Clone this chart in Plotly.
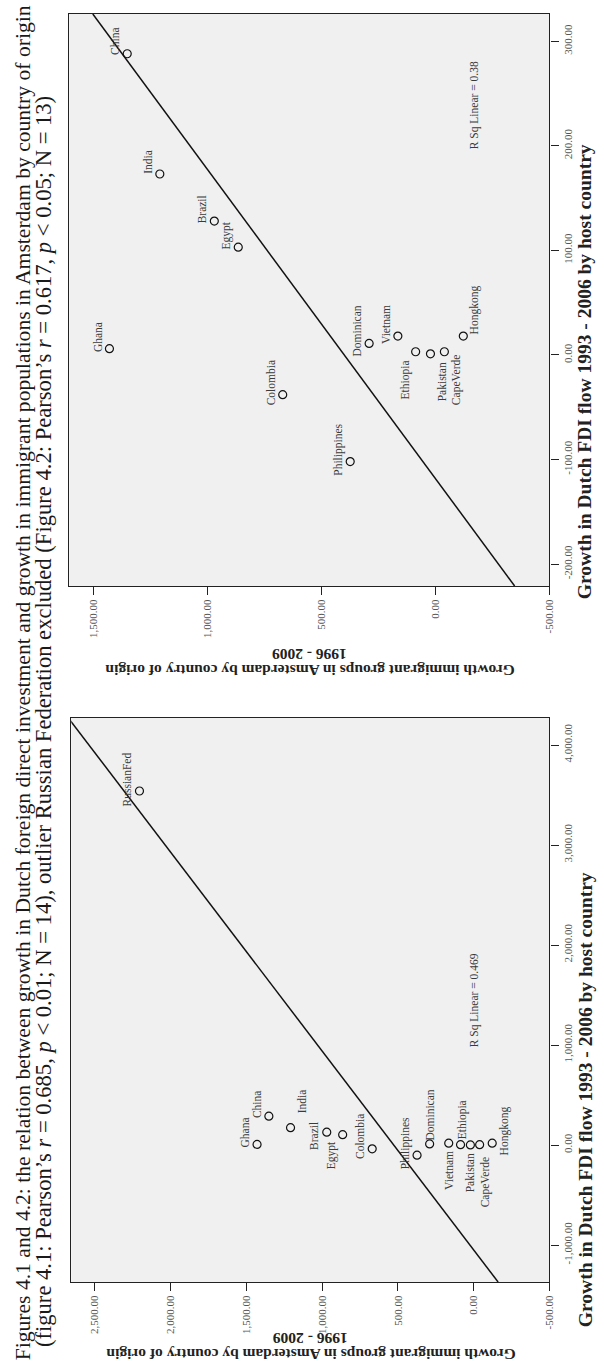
import numpy as np
import plotly.graph_objects as go

W, H = 604, 1365

# Growth figures by country of origin (per cent)
countries = ["China", "India", "Brazil", "Egypt", "Ghana", "Colombia", "Philippines",
             "Dominican", "Vietnam", "Ethiopia", "Pakistan", "CapeVerde", "Hongkong"]
fdi_growth = [288, 173, 128, 103, 6, -38, -102, 11, 18, 3, 1, 3, 18]
immigrant_growth = [1352, 1209, 970, 865, 1430, 670, 374, 291, 165, 87, 22, -39, -122]

outlier_name = "RussianFed"
outlier_fdi = 3540
outlier_immigrant = 2206

rsq_all = "R Sq Linear = 0.469"
rsq_excl = "R Sq Linear = 0.38"

imm_ticks_all = [-500, 0, 500, 1000, 1500, 2000, 2500]
fdi_ticks_all = [-1000, 0, 1000, 2000, 3000, 4000]
imm_ticks_excl = [-500, 0, 500, 1000, 1500]
fdi_ticks_excl = [-200, -100, 0, 100, 200, 300]

fdi_title = "Growth in Dutch FDI flow 1993 - 2006 by host country"
imm_title = "Growth immigrant groups in Amsterdam by country of origin"
imm_title_years = "1996 - 2009"

caption_1 = ("Figures 4.1 and 4.2: the relation between growth in Dutch foreign direct "
             "investment and growth in immigrant populations in Amsterdam by country of origin")
caption_2 = ("(figure 4.1: Pearson\u2019s <i>r</i> = 0.685, <i>p</i> &lt; 0.01; N = 14), "
             "outlier Russian Federation excluded (Figure 4.2: Pearson\u2019s <i>r</i> = 0.617, "
             "<i>p</i> &lt; 0.05; N = 13)")

SERIF = "Liberation Serif, Times New Roman, serif"
INK = "#222222"
LABEL_INK = "#3a3a3a"


def xp(px):
    return px / W


def yp(py):
    return 1 - py / H


def fmt(v):
    return f"{v:,.2f}"


def page_text(text, px, py, angle, size, color, **extra):
    """Text placed in page pixels, centred on (px, py)."""
    return dict(x=xp(px), y=yp(py), xref="paper", yref="paper", text=text,
                showarrow=False, textangle=angle, xanchor="center", yanchor="middle",
                font=dict(family=SERIF, size=size, color=color), **extra)


# panel boxes in page pixels (left, right, top, bottom) and their axis ranges
panels = {
    "excl": dict(box=(70, 555, 14, 586), imm_range=[1606, -500], fdi_range=[-221, 326],
                 imm_ticks=imm_ticks_excl, fdi_ticks=fdi_ticks_excl, ax=("x", "y"),
                 rsq=rsq_excl, rsq_pos=(480, 105), fdi_title_y=372, imm_title_y=(671, 655)),
    "all": dict(box=(72, 555, 718, 1282), imm_range=[2656, -500], fdi_range=[-1370, 4270],
                imm_ticks=imm_ticks_all, fdi_ticks=fdi_ticks_all, ax=("x2", "y2"),
                rsq=rsq_all, rsq_pos=(480, 1000), fdi_title_y=1100, imm_title_y=(1355, 1339)),
}

# label placement relative to the marker (screen px, +x right, +y down)
DEFAULT_SHIFT = (-12, -12)
label_shift = {
    "excl": {"Ethiopia": (-10, 28), "Pakistan": (11, 28), "CapeVerde": (12, 28),
             "Hongkong": (11, -26)},
    "all": {"India": (11, -26), "Brazil": (-13, 4), "Egypt": (-11, 21), "Dominican": (0, -29),
            "Vietnam": (0, 27), "Ethiopia": (2, -25), "Pakistan": (0, 28),
            "CapeVerde": (6, 38), "Hongkong": (12, -12)},
}

fig = go.Figure()
annotations = []
layout_axes = {}

for key, p in panels.items():
    xa, ya = p["ax"]
    if key == "all":
        names = countries + [outlier_name]
        fdi = fdi_growth + [outlier_fdi]
        imm = immigrant_growth + [outlier_immigrant]
    else:
        names = countries
        fdi = fdi_growth
        imm = immigrant_growth

    # least-squares line of immigrant growth on FDI growth
    slope, icpt = np.polyfit(np.array(fdi, float), np.array(imm, float), 1)
    fdi_line = np.array(p["fdi_range"], float)
    imm_line = icpt + slope * fdi_line
    fig.add_trace(go.Scatter(x=imm_line, y=fdi_line, mode="lines", xaxis=xa, yaxis=ya,
                             line=dict(color="#111111", width=1.5), hoverinfo="skip",
                             showlegend=False))
    fig.add_trace(go.Scatter(x=imm, y=fdi, mode="markers", xaxis=xa, yaxis=ya,
                             marker=dict(symbol="circle-open", size=8, color="#111111",
                                         line=dict(width=1.2)),
                             text=names, showlegend=False))

    for n, fx, iy in zip(names, fdi, imm):
        dx, dy = label_shift[key].get(n, DEFAULT_SHIFT)
        annotations.append(dict(x=iy, y=fx, xref=xa, yref=ya, text=n, showarrow=False,
                                textangle=-90, xshift=dx, yshift=-dy,
                                xanchor="center", yanchor="middle",
                                font=dict(family=SERIF, size=11.5, color=LABEL_INK)))

    l, r, t, b = p["box"]
    axis_common = dict(showgrid=False, zeroline=False, showline=True, mirror=True,
                       linecolor=INK, linewidth=1.3, ticks="outside", ticklen=8,
                       tickcolor=INK, tickwidth=1.2, tickangle=-90,
                       tickfont=dict(family=SERIF, size=11, color="#555555"))
    xname = "xaxis" if xa == "x" else "xaxis2"
    yname = "yaxis" if ya == "y" else "yaxis2"
    layout_axes[xname] = dict(axis_common, domain=[xp(l), xp(r)], range=p["imm_range"],
                              anchor=ya, side="bottom", tickvals=p["imm_ticks"],
                              ticktext=[fmt(v) for v in p["imm_ticks"]])
    layout_axes[yname] = dict(axis_common, domain=[yp(b), yp(t)], range=p["fdi_range"],
                              anchor=xa, side="right", tickvals=p["fdi_ticks"],
                              ticktext=[fmt(v) for v in p["fdi_ticks"]])

    # R-squared note
    rx, ry = p["rsq_pos"]
    annotations.append(page_text(p["rsq"], rx, ry, -90, 11.5, LABEL_INK))
    # axis titles
    annotations.append(page_text(f"<b>{fdi_title}</b>", 591, p["fdi_title_y"], -90, 19.5, INK))
    cx = (l + r) / 2
    y_main, y_years = p["imm_title_y"]
    annotations.append(page_text(f"<b>{imm_title}</b>", cx, y_main, 180, 15.5, INK))
    annotations.append(page_text(f"<b>{imm_title_years}</b>", cx, y_years, 180, 15.5, INK))

# caption along the left edge, read bottom to top
for text, cx, start, size in ((caption_1, 23, 1362, 21.6), (caption_2, 44, 1349, 22.6)):
    ann = page_text(text, cx, start, -90, size, "#1a1a1a")
    ann["yanchor"] = "bottom"
    annotations.append(ann)

fig.update_layout(width=W, height=H, margin=dict(l=0, r=0, t=0, b=0),
                  paper_bgcolor="white", plot_bgcolor="#F0F0F0",
                  annotations=annotations, **layout_axes)

fig.write_html("out.html")
